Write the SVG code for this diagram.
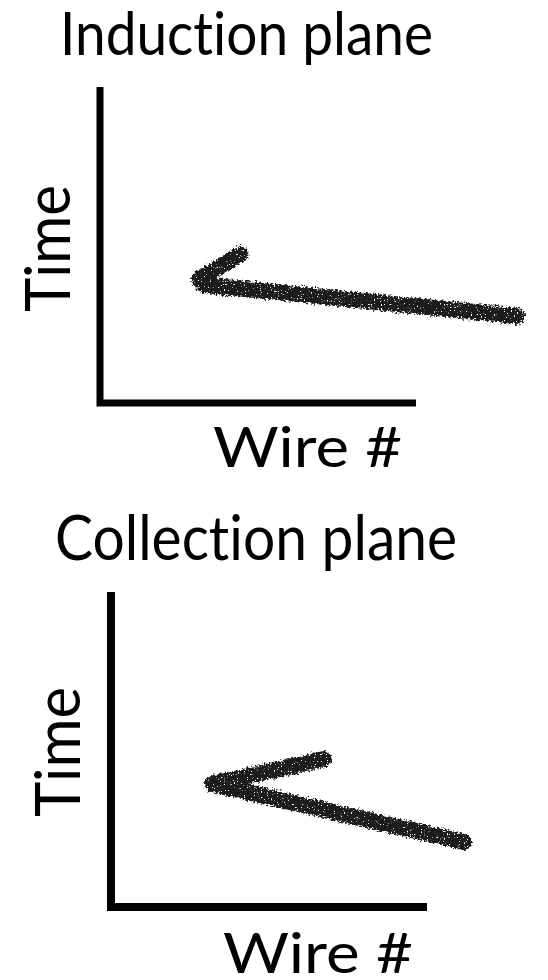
<svg xmlns="http://www.w3.org/2000/svg" width="548" height="980" viewBox="0 0 548 980">
<defs>
<style>
.t{font-family:"Lato","Open Sans","DejaVu Sans",sans-serif;fill:#000;font-variant-ligatures:none;font-feature-settings:"liga" 0}
.ax{fill:none;stroke:#000;stroke-linecap:butt;stroke-linejoin:miter}
.tr{fill:none;stroke:#1e1e1e;stroke-width:16;stroke-linecap:round;stroke-linejoin:round;filter:url(#chalk)}
</style>
<filter id="chalk" x="-10%" y="-30%" width="120%" height="160%">
<feTurbulence type="fractalNoise" baseFrequency="0.45" numOctaves="2" seed="4" result="n1"/>
<feDisplacementMap in="SourceGraphic" in2="n1" scale="7" xChannelSelector="R" yChannelSelector="G" result="d"/>
<feTurbulence type="fractalNoise" baseFrequency="0.7" numOctaves="1" seed="9" result="n2"/>
<feColorMatrix in="n2" type="matrix" values="0 0 0 0 0  0 0 0 0 0  0 0 0 0 0  0 0 0 -14 10" result="m"/>
<feComposite in="d" in2="m" operator="in"/>
</filter>
</defs>
<rect width="548" height="980" fill="#fff"/>
<g id="induction">
<text class="t" x="60" y="55" font-size="60" textLength="373" lengthAdjust="spacingAndGlyphs">Induction plane</text>
<path class="ax" stroke-width="7" d="M100 87 V403 H416"/>
<text class="t" transform="translate(70 312) rotate(-90)" font-size="62" textLength="127" lengthAdjust="spacingAndGlyphs">Time</text>
<text class="t" x="213" y="467" font-size="56" textLength="189" lengthAdjust="spacingAndGlyphs">Wire #</text>
<path class="tr" d="M241 254 L199 279 L204 285 L517 316"/>
</g>
<g id="collection">
<text class="t" x="55" y="560" font-size="62" textLength="402" lengthAdjust="spacingAndGlyphs">Collection plane</text>
<path class="ax" stroke-width="8" d="M111 592 V907 H427"/>
<text class="t" transform="translate(80 817) rotate(-90)" font-size="61" textLength="130" lengthAdjust="spacingAndGlyphs">Time</text>
<text class="t" x="223" y="973" font-size="57" textLength="190" lengthAdjust="spacingAndGlyphs">Wire #</text>
<path class="tr" d="M324 759 L212 784 L464 842"/>
</g>
</svg>
